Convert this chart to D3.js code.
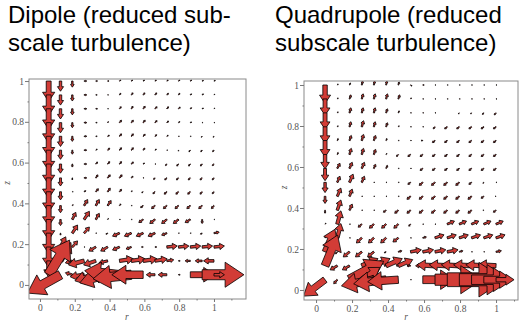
<!DOCTYPE html>
<html>
<head>
<meta charset="utf-8">
<script src="https://cdn.jsdelivr.net/npm/d3@7"></script>
<style>
  body { margin: 0; background: #fff; }
  svg { display: block; }
  .title { font-family: "Liberation Sans", Arial, sans-serif; font-size: 24px; fill: #000; }
  .axis text { font-family: "Liberation Serif", "DejaVu Serif", serif; font-size: 9.5px; fill: #555; }
  .axis line { stroke: #777; }
  .axis path { display: none; }
  .varname { font-family: "Liberation Serif", serif; font-style: italic; font-size: 9.5px; fill: #555; }
</style>
</head>
<body>
<svg id="chart" width="523" height="323"></svg>
<script>
// grid where the field was sampled (arrow tails sit on these points)
const rGrid = [0.05, 0.118, 0.186, 0.254, 0.321, 0.389, 0.457, 0.525, 0.593, 0.661, 0.729, 0.796, 0.864, 0.932, 1.0];
// rows listed top to bottom
const zGrid = [1.0, 0.932, 0.864, 0.796, 0.729, 0.661, 0.593, 0.525, 0.457, 0.389, 0.321, 0.254, 0.186, 0.118, 0.05];

const tickValues = [0, 0.2, 0.4, 0.6, 0.8, 1];
const minorTicks = [0.1, 0.3, 0.5, 0.7, 0.9, 1.1];
const tickLabels = ["0", "0.2", "0.4", "0.6", "0.8", "1"];

const dipoleTitle = ["Dipole (reduced sub-", "scale turbulence)"];
const quadTitle = ["Quadrupole (reduced", "subscale turbulence)"];

// arrow components in hundredths of an axis unit, one row per zGrid entry
const dipoleU = [
  [0, 0, 0, 1.5, 1, 0.8, 0.8, 0.8, 0.8, 0.8, 0.8, 0.8, 0.8, 0.8, 0.8],
  [0, 0, 0, 1.5, 0.8, 0.5, 0.8, 1, 1, 1, 1, 0.8, 0.8, 0.8, 0.5],
  [0, 0, 0, 1.5, 1, 0.5, 1, 1, 1.2, 1.2, 1, 1, 0.8, 0.8, 0.5],
  [0, 0, 0, 1.5, 0.8, 0.5, 1.2, 1.2, 1.2, 1.2, 1, 0.8, 0.8, 0.5, 0.5],
  [0, 0, 0, 1.5, 0.8, 1, 1.2, 1.2, 1.2, 1, 0.8, 0.5, 0.5, -0.5, -0.5],
  [0, 0, 0, 1.5, 0.8, 1.2, 1.2, 1.2, 1, 0.8, 0.5, 0, -0.8, -0.8, -0.8],
  [0, 0, 0, 1.5, 1, 1.2, 1.2, 1.2, 0.8, 0.5, -0.8, -1, -1, -1, -1],
  [0, 0, 0, 1.5, 1.2, 1.5, 1.5, 1, 0.5, -0.8, -1.2, -1.2, -1.2, -1.2, -1],
  [0, 0, 0.5, 1, 1.5, 1.5, 1.2, 0.5, -0.8, -1.2, -1.5, -1.5, -1.5, -1.2, -1],
  [0, 0, 0.5, 2, 2, 2, 0.8, 0.5, -1.5, -2, -2, -2, -2, -2, -1.5],
  [0, 0, 2, 3, 2, 0.5, 0.5, 0.5, -2.5, -3, -3, -3, -3, 0, 0.5],
  [0, 0, 3, 3, 0.5, -1, -4, -4, -4, -4, -3, 0.5, 0.5, -1, 3],
  [0, 3, 3, 0.5, -4, -4, -4, -3, -1, 1, 6, 6, 6, 6, 6],
  [0, 6, -4, -9, -7, -5, 8, 8, 8, 7, 4, 1, -3, -4, -6],
  [12, -19, -4, -8, -12, -16, -20, -22, -18, -5, -5, 1, 14, 24, 6]
];
const dipoleV = [
  [-10, -5, -3, 0, 0, 0, 0.5, 0.5, 0.5, 0.5, 0.5, 0.5, 0.5, 0.3, 0.3],
  [-10, -5, -3, 0, 0, 0, 0.8, 1, 1, 1, 0.8, 0.8, 0.5, 0.5, 0.3],
  [-10, -5, -3, 0, 0, 0, 1, 1.2, 1.2, 1, 1, 0.8, 0.5, 0.3, 0.3],
  [-10, -5, -2.5, 0, 0, 0.5, 1.2, 1.2, 1.2, 1, 0.8, 0.5, 0.3, 0, 0],
  [-10, -5, -2.5, 0, 0, 0.5, 1.2, 1.2, 1, 0.8, 0.5, 0, 0, -0.5, -0.5],
  [-10, -4.5, -2, 0, 0.5, 1, 1.2, 1.2, 1, 0.5, 0, -0.5, -0.8, -0.8, -0.8],
  [-10, -4.5, -1.5, 0, 1, 1.2, 1.2, 1, 0.5, 0, -0.8, -1, -1, -1, -0.8],
  [-10, -4, -1, 0, 1.5, 1.5, 1.5, 0.8, 0, -0.8, -1, -1, -1, -1, -1],
  [-10, -4, 0, 0.5, 1.5, 1.8, 1.2, 0.5, -0.5, -1, -1.2, -1.2, -1.2, -1.2, -1],
  [-10, -3.5, 0.5, 3, 3, 2.5, 0.8, 0, -1, -1.5, -1.5, -1.5, -1.5, -1.5, -1.5],
  [-10, -3, 3.5, 4, 3, 0.5, 0, 0, -1.5, -2, -2, -2, -1.5, -2, 0],
  [-10, -1, 4, 3, 0, -0.5, -1.5, -1.5, -1.5, -1.5, -1, 0, 0, -0.5, 0.5],
  [-10, 5, 3, 0, -2, -2, -1.5, -1, 0, 0, 0.5, 0.5, 0.5, 0.5, 0.5],
  [-8, 9, -1, -2, -2, -1, 1, 1, 1, 1, 0.5, 0, 0, 0, 0],
  [17, -9, 1, -1, -3, -4, 2, -2, 0, 0, 0, 0, 0, 0, 0]
];

const quadU = [
  [0, 0.5, 0.5, 0.5, 0.5, 0.5, 0.5, 0.8, 0.8, 0.5, 0.5, 0.5, 0.5, 0.5, 0.5],
  [0, 0.5, 0.8, 0.8, 0.8, 0.8, 0.8, 0.5, 0.5, 0.5, 0.5, 0.5, 0.5, 0.5, 0.5],
  [0, 0.5, 0.8, 0.8, 0.8, 0.8, 0.5, 0.5, 0.5, 0.5, 0, -0.5, -0.5, -0.8, -1],
  [0, 0.5, 0.8, 1, 0.8, 0.8, 0.5, 0.5, 0.5, -1, -1.5, -1.5, -1.5, -1.5, -1.5],
  [0, 0.5, 1, 1, 1, 0.5, 0.5, 0.5, -1, -1.5, -1.5, -1.5, -1.5, -1.5, -1.5],
  [0, 0.5, 1, 1, 1, 0.5, -1, -1.5, -1.5, -1.5, -1.5, -1.5, -1.5, -1.5, -1.5],
  [0, 1.5, 1.5, 1.5, 1, 0.8, 0.5, 0.5, -1.5, -1.5, -1.5, -1.5, -1.5, -1.5, -1.5],
  [0, 1.5, 2, 1.5, 0.5, 0.5, 0.5, -1.5, -2, -2, -2, -2, -1.5, -0.5, 0.5],
  [0, 2, 1.5, 0.5, 0.5, 0.5, 0.5, -2, -2, -2, -2, -2, -2, -1.5, -0.5],
  [0, 2, 1.5, 0.5, 0.5, -1.5, -2, -2, -2, -2, -2, -2, -2, -0.5, -1.5],
  [0.5, 2, 0.5, -2, -2.5, -2.5, -2.5, -1, 0.5, 0.5, 4, 4, 4, 4, 4],
  [0.5, 2, 0.5, -3, -3, -3, -3, 0.5, 2, 5, 5, 5, 5, 5, 5],
  [5.5, -1, -3.5, -3.5, -3.5, -1, 2, 6, 6, 6, 6, 2, 0.5, 0.5, 3],
  [7, -4, -4, 9, 9, 9, 8, -2, -4, -10, -10, -10, -10, -10, -10],
  [-12, -2, 19, 10, -18, -18, -17, 0.5, 18, 26, 32, 28, 22, 16, 10]
];
const quadV = [
  [-9, 0.5, 1, 2, 2, 2, 1.5, -0.5, 0, 0, 0, 0, 0, 0, 0],
  [-8, 0.5, 2, 2.5, 2.5, 2.5, 2, 0.5, 0, 0, 0, 0, 0, 0, 0],
  [-8, 0.5, 2.5, 2.5, 2.5, 2, 1, 0, 0, 0, 0, -0.5, -0.5, -0.8, -1],
  [-8, 0.5, 2.5, 3, 2.5, 2, 0.5, 0, 0, -1, -1, -1, -1, -1, -1],
  [-8, 1, 2.5, 3, 2.5, 1, 0, 0, 0, -1, -1, -1, -1, -1, -1],
  [-7, 1, 3, 3, 2.5, 0.5, -1, -1, -1, -1, -1, -1, -1, -1, -1],
  [-6, 2.5, 3, 3, 2, 1.5, 0, 0, -1, -1, -1, -1, -1, -1, -1],
  [-5, 3, 4, 3, 0, 0, 0, -1, -1.5, -1.5, -1.5, -1.5, -1, -0.5, 0],
  [-3.5, 4, 3.5, 0, 0, 0, 0, -1.5, -1.5, -1.5, -1.5, -1.5, -1.5, -1, 0],
  [-1.5, 5, 3, 0, 0, -1, -1.5, -1.5, -1.5, -1.5, -1.5, -1.5, -1.5, 0, -1],
  [0.5, 6.5, 0, -1.5, -2, -2, -2, -1, 0, 0, 1.5, 1.5, 1.5, 1.5, 1.5],
  [1, 7, 0, -2.5, -2.5, -2.5, -2, 0, 0.5, 1.5, 1.5, 1.5, 1.5, 1.5, 1.5],
  [11, -1, -2.5, -2.5, -2.5, -0.5, 0.5, 1, 1, 1, 1, 0.5, 0, 0, 0.5],
  [15, -2, -2, 3.5, 3.5, 3.5, 3, 0, 0, 0.5, 0.5, 0.5, 0.5, 0.5, 0.5],
  [-8, -2, 9, 6, -3, -2, -1, 0, 0, 0, 0, 0, 0, 0, 0]
];

const panels = [
  { id: "dip", title: dipoleTitle, titleX: 8, u: dipoleU, v: dipoleV,
    left: 29, right: 246, top: 79, bottom: 299,
    rDomain: [-0.063, 1.184], zDomain: [-0.069, 1.01], zLabelX: 7 },
  { id: "quad", title: quadTitle, titleX: 275, u: quadU, v: quadV,
    left: 304, right: 518, top: 81, bottom: 300,
    rDomain: [-0.067, 1.122], zDomain: [-0.049, 1.0195], zLabelX: 284 }
];

const svg = d3.select("#chart");

function arrowPath(x0, y0, x1, y1) {
  const dx = x1 - x0, dy = y1 - y0;
  const len = Math.hypot(dx, dy);
  const ux = dx / len, uy = dy / len;
  const nx = -uy, ny = ux;
  const sw = 0.12 * len, hw = 0.3 * len, hl = 0.45 * len;
  const bx = x1 - ux * hl, by = y1 - uy * hl;
  const pts = [
    [x0 + nx * sw, y0 + ny * sw], [bx + nx * sw, by + ny * sw], [bx + nx * hw, by + ny * hw],
    [x1, y1],
    [bx - nx * hw, by - ny * hw], [bx - nx * sw, by - ny * sw], [x0 - nx * sw, y0 - ny * sw]
  ];
  return "M" + pts.map(p => p[0].toFixed(2) + "," + p[1].toFixed(2)).join("L") + "Z";
}

panels.forEach(p => {
  const x = d3.scaleLinear().domain(p.rDomain).range([p.left, p.right]);
  const y = d3.scaleLinear().domain(p.zDomain).range([p.bottom, p.top]);

  // title, two lines
  svg.append("text").attr("class", "title")
    .selectAll("tspan").data(p.title).enter().append("tspan")
    .attr("x", p.titleX)
    .attr("y", (d, i) => 23 + i * 28)
    .text(d => d);

  svg.append("clipPath").attr("id", "clip-" + p.id)
    .append("rect")
    .attr("x", p.left).attr("y", p.top)
    .attr("width", p.right - p.left).attr("height", p.bottom - p.top);

  // one record per grid point
  const vectors = [];
  zGrid.forEach((z, i) => {
    rGrid.forEach((r, j) => {
      const u = p.u[i][j] / 100, v = p.v[i][j] / 100;
      if (u === 0 && v === 0) return;
      vectors.push({ r, z, u, v });
    });
  });

  svg.append("g")
    .attr("clip-path", "url(#clip-" + p.id + ")")
    .selectAll("path")
    .data(vectors)
    .enter()
    .append("path")
    .attr("d", d => arrowPath(x(d.r), y(d.z), x(d.r + d.u), y(d.z + d.v)))
    .attr("fill", "#d23c36")
    .attr("stroke", "#000")
    .attr("stroke-width", 0.8)
    .attr("stroke-linejoin", "miter");

  // frame
  svg.append("rect")
    .attr("x", p.left).attr("y", p.top)
    .attr("width", p.right - p.left).attr("height", p.bottom - p.top)
    .attr("fill", "none").attr("stroke", "#8a8a8a").attr("stroke-width", 1);

  const fmt = d => tickLabels[tickValues.indexOf(d)];

  svg.append("g").attr("class", "axis")
    .attr("transform", `translate(0,${p.bottom})`)
    .call(d3.axisBottom(x).tickValues(tickValues).tickSize(3).tickPadding(2).tickFormat(fmt));
  svg.append("g").attr("class", "axis")
    .attr("transform", `translate(0,${p.bottom})`)
    .call(d3.axisBottom(x).tickValues(minorTicks).tickSize(1.5).tickFormat(""));

  svg.append("g").attr("class", "axis")
    .attr("transform", `translate(${p.left},0)`)
    .call(d3.axisLeft(y).tickValues(tickValues).tickSize(4).tickPadding(1).tickFormat(fmt));
  svg.append("g").attr("class", "axis")
    .attr("transform", `translate(${p.left},0)`)
    .call(d3.axisLeft(y).tickValues(minorTicks.slice(0, 5)).tickSize(1.5).tickFormat(""));

  svg.append("text").attr("class", "varname")
    .attr("x", x(0.5)).attr("y", 320)
    .attr("text-anchor", "middle")
    .text("r");
  svg.append("text").attr("class", "varname")
    .attr("transform", `translate(${p.zLabelX},${y(0.5)}) rotate(-90)`)
    .attr("text-anchor", "middle")
    .attr("dy", "0.35em")
    .text("z");
});
</script>
</body>
</html>
